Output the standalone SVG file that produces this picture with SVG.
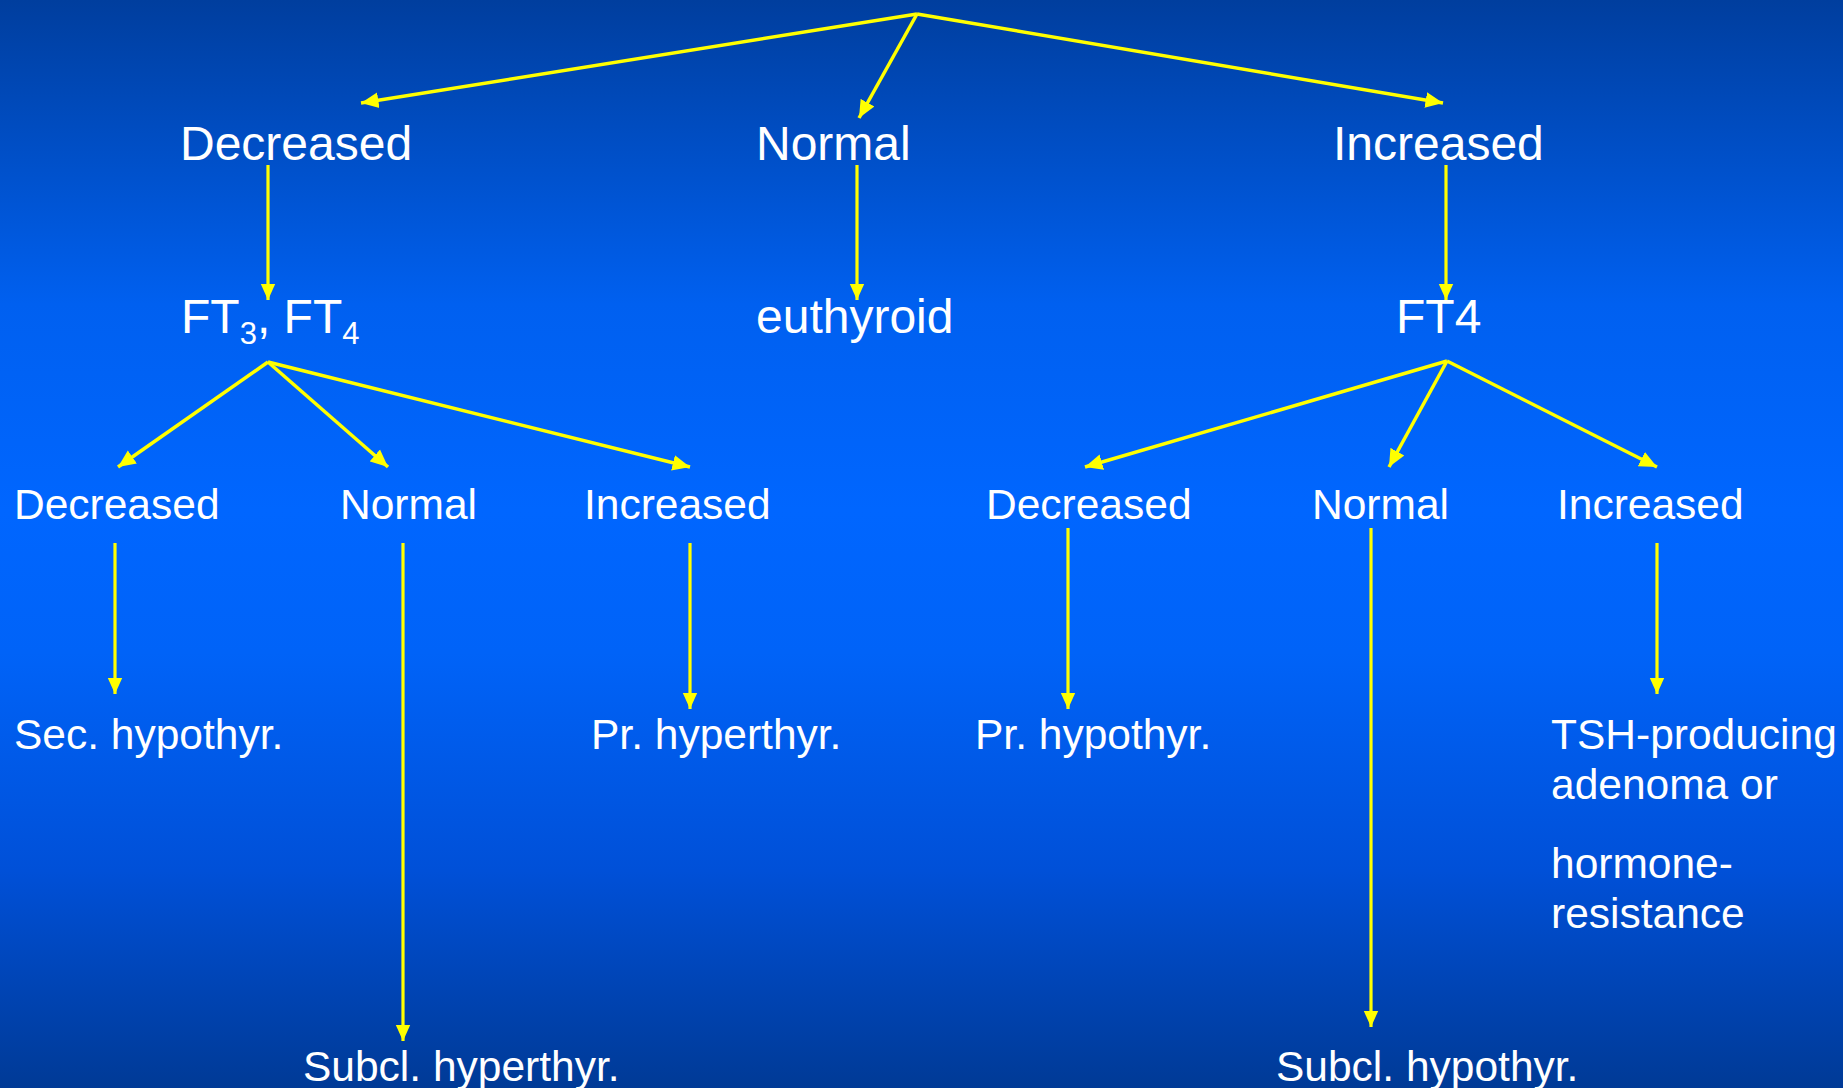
<svg xmlns="http://www.w3.org/2000/svg" width="1843" height="1088" viewBox="0 0 1843 1088">
<defs>
<linearGradient id="bg" x1="0" y1="0" x2="0" y2="1">
<stop offset="0" stop-color="#003e9e"/>
<stop offset="0.28" stop-color="#0060f0"/>
<stop offset="0.47" stop-color="#0066ff"/>
<stop offset="0.6" stop-color="#0063f8"/>
<stop offset="0.8" stop-color="#0050d8"/>
<stop offset="1" stop-color="#003a96"/>
</linearGradient>
<marker id="ah" viewBox="0 0 10 10" refX="10" refY="5" markerWidth="5" markerHeight="5" orient="auto" markerUnits="strokeWidth">
<path d="M0,0.5 L10,5 L0,9.5 Z" fill="#ffff00"/>
</marker>
<style>
.c{stroke:#ffff00;stroke-width:3.5;fill:none;marker-end:url(#ah)}
.v{stroke:#ffff00;stroke-width:3.2;fill:none;marker-end:url(#ah)}
text{font-family:"Liberation Sans",Arial,sans-serif;fill:#ffffff}
.l1{font-size:48px}
.l2{font-size:42.5px}
.sub{font-size:31px}
</style>
</defs>
<rect width="1843" height="1088" fill="url(#bg)"/>
<g id="connectors">
<line class="c" x1="917" y1="14" x2="361" y2="103"/>
<line class="c" x1="917" y1="14" x2="859" y2="118"/>
<line class="c" x1="917" y1="14" x2="1443" y2="103"/>
<line class="v" x1="268" y1="165" x2="268" y2="300"/>
<line class="v" x1="857" y1="165" x2="857" y2="300"/>
<line class="v" x1="1446" y1="165" x2="1446" y2="300"/>
<line class="c" x1="268" y1="362" x2="118" y2="467"/>
<line class="c" x1="268" y1="362" x2="388" y2="467"/>
<line class="c" x1="268" y1="362" x2="690" y2="467"/>
<line class="c" x1="1447" y1="361" x2="1085" y2="467"/>
<line class="c" x1="1447" y1="361" x2="1389" y2="467"/>
<line class="c" x1="1447" y1="361" x2="1657" y2="467"/>
<line class="v" x1="115" y1="543" x2="115" y2="694"/>
<line class="v" x1="403" y1="543" x2="403" y2="1041"/>
<line class="v" x1="690" y1="543" x2="690" y2="709"/>
<line class="v" x1="1068" y1="528" x2="1068" y2="709"/>
<line class="v" x1="1371" y1="528" x2="1371" y2="1027"/>
<line class="v" x1="1657" y1="543" x2="1657" y2="694"/>
</g>
<g id="n-decreased"><text class="l1" x="180" y="160">Decreased</text></g>
<g id="n-normal"><text class="l1" x="756" y="160">Normal</text></g>
<g id="n-increased"><text class="l1" x="1333" y="160">Increased</text></g>
<g id="n-ft3ft4"><text class="l1" x="181" y="333">FT<tspan class="sub" dy="11">3</tspan><tspan dy="-11">, FT</tspan><tspan class="sub" dy="11">4</tspan></text></g>
<g id="n-euthyroid"><text class="l1" x="756" y="333">euthyroid</text></g>
<g id="n-ft4"><text class="l1" x="1396" y="333">FT4</text></g>
<g id="n-l-decreased"><text class="l2" x="14" y="519">Decreased</text></g>
<g id="n-l-normal"><text class="l2" x="340" y="519">Normal</text></g>
<g id="n-l-increased"><text class="l2" x="584" y="519">Increased</text></g>
<g id="n-r-decreased"><text class="l2" x="986" y="519">Decreased</text></g>
<g id="n-r-normal"><text class="l2" x="1312" y="519">Normal</text></g>
<g id="n-r-increased"><text class="l2" x="1557" y="519">Increased</text></g>
<g id="n-sec-hypo"><text class="l2" x="14" y="749">Sec. hypothyr.</text></g>
<g id="n-pr-hyper"><text class="l2" x="591" y="749">Pr. hyperthyr.</text></g>
<g id="n-pr-hypo"><text class="l2" x="975" y="749">Pr. hypothyr.</text></g>
<g id="n-tsh"><text class="l2" x="1551" y="749">TSH-producing</text><text class="l2" x="1551" y="799">adenoma or</text><text class="l2" x="1551" y="878">hormone-</text><text class="l2" x="1551" y="928">resistance</text></g>
<g id="n-subcl-hyper"><text class="l2" x="303" y="1081">Subcl. hyperthyr.</text></g>
<g id="n-subcl-hypo"><text class="l2" x="1276" y="1081">Subcl. hypothyr.</text></g>
</svg>
